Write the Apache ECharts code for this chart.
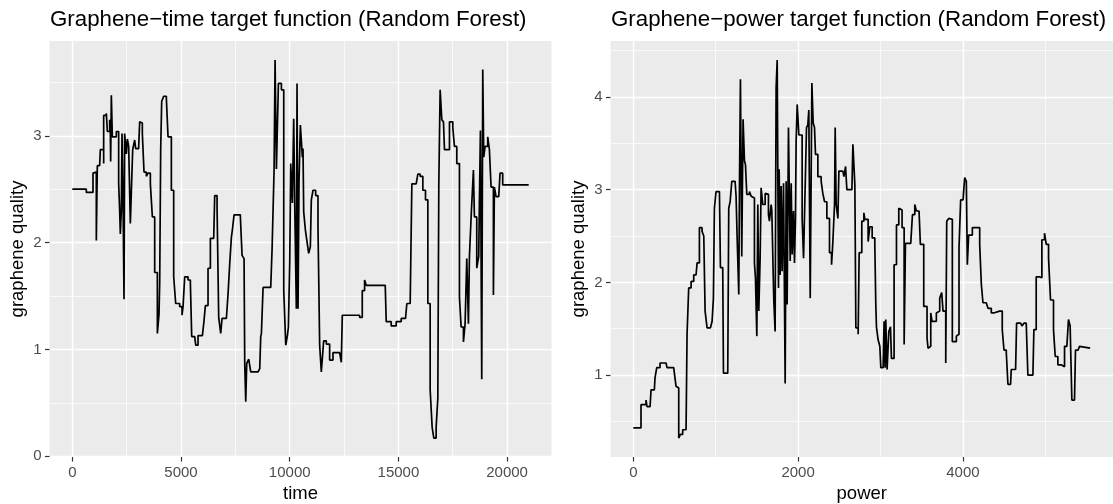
<!DOCTYPE html>
<html><head><meta charset="utf-8">
<script src="https://cdn.jsdelivr.net/npm/echarts@6/dist/echarts.min.js"></script>
<style>html,body{margin:0;padding:0;background:#fff}#c{width:1113px;height:504px}</style>
</head><body><div id="c"></div>
<script>
// ---- data ----
const timeX = [
  0, 644, 644, 951, 951, 1028, 1104, 1150, 1258, 1289,
  1442, 1442, 1565, 1611, 1718, 1749, 1764, 1795, 1841, 2025,
  2132, 2178, 2209, 2255, 2286, 2332, 2378, 2408, 2485, 2531,
  2592, 2669, 2746, 2777, 2869, 2915, 3053, 3099, 3175, 3221,
  3298, 3405, 3482, 3590, 3682, 3789, 3912, 3988, 4019, 4065,
  4111, 4203, 4326, 4403, 4556, 4663, 4755, 4939, 5047, 5093,
  5170, 5323, 5430, 5492, 5630, 5676, 5783, 5983, 6059, 6121,
  6243, 6351, 6504, 6550, 6658, 6734, 6826, 6888, 7087, 7164,
  7240, 7317, 7363, 7440, 7731, 7808, 7900, 7931, 7977, 8023,
  8115, 8207, 8544, 8621, 8667, 8698, 8775, 9127, 9189, 9281,
  9327, 9388, 9480, 9618, 9726, 9818, 9894, 9940, 10002, 10046,
  10122, 10184, 10230, 10306, 10337, 10383, 10429, 10490, 10582, 10612,
  10643, 10720, 10796, 10873, 10949, 10995, 11072, 11194, 11301, 11378,
  11454, 11531, 11562, 11684, 11837, 11990, 12297, 12373, 12419, 13215,
  13338, 13445, 13521, 14394, 14440, 14670, 14899, 15129, 15328, 15389,
  15542, 15619, 15818, 15894, 16002, 16124, 16246, 16354, 16461, 16553,
  16629, 16736, 16813, 16859, 16920, 16997, 17073, 17119, 17196, 17349,
  17502, 17578, 17686, 17808, 17885, 17992, 18068, 18145, 18221, 18267,
  18359, 18451, 18497, 18604, 18696, 18727, 18773, 18834, 18880, 18926,
  18987, 19109, 19186, 19263, 19370, 19416, 19492, 19615, 19676, 19798,
  20993
];
const timeY = [
  2.50, 2.50, 2.47, 2.47, 2.65, 2.66, 2.02, 2.72, 2.72, 2.87,
  2.74, 3.19, 3.21, 3.04, 3.15, 3.02, 2.76, 3.38, 2.99, 3.04,
  2.55, 2.30, 2.08, 2.30, 3.02, 2.43, 1.47, 3.02, 2.83, 2.97,
  2.90, 2.18, 2.18, 2.87, 2.96, 2.88, 2.90, 3.13, 3.12, 3.02,
  2.66, 2.62, 2.65, 2.55, 2.24, 1.72, 1.15, 1.33, 1.62, 2.87,
  3.32, 3.37, 3.35, 2.99, 2.49, 1.68, 1.43, 1.40, 1.32, 1.40,
  1.68, 1.65, 1.63, 1.12, 1.12, 1.04, 1.13, 1.13, 1.27, 1.41,
  1.76, 2.04, 2.05, 2.44, 2.33, 1.30, 1.15, 1.29, 1.30, 1.52,
  1.80, 2.05, 2.12, 2.26, 2.24, 1.88, 1.85, 0.87, 0.51, 0.87,
  0.91, 0.79, 0.79, 0.82, 1.12, 1.15, 1.58, 1.58, 1.94, 2.68,
  3.71, 2.69, 3.49, 3.43, 1.55, 1.04, 1.13, 1.21, 1.83, 2.74,
  2.37, 3.16, 2.37, 1.38, 3.49, 1.38, 2.58, 3.10, 2.80, 2.88,
  2.29, 2.12, 2.01, 1.90, 1.96, 2.40, 2.49, 2.44, 2.15, 1.04,
  0.79, 0.79, 1.08, 1.05, 0.90, 0.97, 0.96, 0.88, 1.32, 1.30,
  1.55, 1.65, 1.60, 1.60, 1.26, 1.22, 1.26, 1.29, 1.30, 1.43,
  1.43, 2.55, 2.55, 2.64, 2.62, 2.49, 2.40, 1.43, 0.62, 0.27,
  0.17, 0.27, 0.54, 2.55, 3.43, 3.15, 3.13, 2.87, 2.87, 3.13,
  3.08, 2.90, 2.74, 1.49, 1.21, 1.07, 1.24, 1.85, 1.24, 1.87,
  2.30, 2.68, 2.24, 1.76, 1.87, 2.40, 3.05, 0.72, 3.62, 2.80,
  2.90, 2.99, 2.87, 2.52, 1.51, 2.52, 2.43, 2.43, 2.65, 2.54,
  2.54
];
const powerX = [
  0, 93, 93, 154, 166, 203, 215, 255, 263, 284,
  324, 397, 409, 490, 498, 518, 539, 551, 571, 599,
  640, 652, 672, 701, 733, 761, 774, 802, 834, 855,
  871, 895, 936, 956, 972, 984, 1004, 1045, 1057, 1085,
  1094, 1146, 1158, 1175, 1195, 1235, 1247, 1260, 1280, 1288,
  1300, 1316, 1332, 1349, 1361, 1377, 1409, 1430, 1450, 1470,
  1482, 1499, 1511, 1523, 1539, 1551, 1571, 1600, 1624, 1640,
  1652, 1673, 1681, 1705, 1721, 1733, 1746, 1762, 1770, 1782,
  1794, 1806, 1823, 1843, 1855, 1867, 1883, 1904, 1916, 1928,
  1944, 1956, 1968, 1976, 1989, 2009, 2025, 2049, 2066, 2078,
  2090, 2102, 2118, 2130, 2147, 2167, 2183, 2199, 2211, 2240,
  2280, 2300, 2321, 2349, 2381, 2406, 2422, 2442, 2450, 2462,
  2483, 2495, 2543, 2556, 2576, 2592, 2653, 2665, 2681, 2689,
  2701, 2729, 2741, 2761, 2773, 2798, 2810, 2830, 2850, 2870,
  2899, 2931, 2943, 2951, 2971, 2992, 3004, 3032, 3044, 3056,
  3064, 3080, 3101, 3121, 3133, 3153, 3165, 3194, 3222, 3246,
  3262, 3287, 3303, 3367, 3388, 3416, 3436, 3468, 3484, 3525,
  3549, 3565, 3577, 3598, 3610, 3626, 3650, 3678, 3699, 3719,
  3743, 3759, 3792, 3804, 3828, 3852, 3872, 3893, 3921, 3941,
  3953, 3973, 4002, 4022, 4042, 4054, 4070, 4115, 4175, 4204,
  4224, 4244, 4284, 4305, 4345, 4373, 4385, 4446, 4478, 4499,
  4527, 4547, 4579, 4587, 4640, 4652, 4701, 4717, 4741, 4769,
  4789, 4850, 4862, 4890, 4931, 4959, 4991, 5012, 5040, 5064,
  5100, 5121, 5153, 5193, 5234, 5262, 5282, 5302, 5323, 5355,
  5367, 5399, 5416, 5436, 5545
];
const powerY = [
  0.43, 0.43, 0.68, 0.73, 0.66, 0.68, 0.84, 0.84, 0.97, 1.08,
  1.13, 1.13, 1.08, 1.07, 1.02, 0.88, 0.86, 0.32, 0.36, 0.41,
  0.43, 1.44, 1.94, 2.01, 2.08, 2.10, 2.21, 2.59, 2.55, 2.50,
  1.69, 1.51, 1.49, 1.58, 1.83, 2.80, 2.98, 2.98, 2.16, 2.16,
  1.02, 1.04, 2.80, 2.87, 3.09, 3.09, 2.93, 2.48, 1.87, 3.02,
  4.19, 2.28, 3.76, 3.31, 3.27, 2.95, 2.98, 2.93, 2.91, 2.21,
  2.05, 1.42, 2.84, 1.69, 2.26, 3.02, 2.84, 2.96, 2.95, 2.73,
  2.66, 2.84, 2.77, 1.80, 1.47, 4.10, 4.40, 1.94, 3.22, 2.08,
  3.04, 2.12, 3.07, 0.91, 3.09, 1.76, 3.67, 2.23, 3.07, 2.30,
  2.77, 2.21, 2.69, 3.52, 3.92, 3.59, 3.59, 2.69, 2.26, 2.73,
  2.73, 3.67, 3.70, 3.86, 1.83, 4.15, 3.72, 3.67, 3.38, 3.14,
  3.09, 2.96, 2.87, 2.69, 2.32, 2.19, 2.44, 2.84, 3.67, 2.84,
  2.69, 3.20, 3.20, 3.14, 3.25, 3.00, 3.00, 3.49, 3.49, 3.05,
  1.51, 1.44, 2.32, 2.32, 2.66, 2.75, 2.68, 2.68, 2.44, 2.60,
  2.48, 2.41, 1.76, 1.52, 1.38, 1.31, 1.08, 1.08, 1.58, 1.08,
  1.60, 1.06, 1.47, 1.52, 1.18, 1.18, 2.19, 2.62, 2.80, 2.78,
  2.59, 1.33, 2.42, 2.42, 2.73, 2.84, 2.77, 2.75, 2.41, 1.74,
  1.74, 1.40, 1.29, 1.31, 1.67, 1.58, 1.58, 1.67, 1.69, 1.83,
  1.89, 1.69, 1.13, 2.66, 2.69, 2.68, 1.36, 1.36, 1.42, 1.44,
  2.37, 2.89, 2.89, 3.13, 3.09, 2.19, 2.51, 2.59, 2.59, 2.41,
  1.98, 1.78, 1.78, 1.72, 1.67, 1.65, 1.69, 1.69, 1.49, 1.27,
  1.24, 0.90, 0.90, 1.06, 1.08, 1.56, 1.56, 1.53, 1.56, 1.56,
  1.00, 0.99, 1.49, 2.06, 2.05, 2.46, 2.53, 2.41, 2.26, 1.81,
  1.49, 1.20, 1.11, 1.09, 1.31, 1.31, 1.60, 1.53, 0.73, 0.73,
  1.27, 1.27, 1.31, 1.29, 1.29
];
const timeTicks = [0, 5000, 10000, 15000, 20000];
const timeMinor = [2500, 7500, 12500, 17500];
const powerTicks = [0, 2000, 4000];
const powerMinor = [1000, 3000, 5000];
const timeYTicks = [0, 1, 2, 3];
const timeYMinor = [0.5, 1.5, 2.5, 3.5];
const powerYTicks = [1, 2, 3, 4];
const powerYMinor = [0.5, 1.5, 2.5, 3.5, 4.5];
const titles = ['Graphene\u2212time target function (Random Forest)', 'Graphene\u2212power target function (Random Forest)'];

// ---- chart ----
const FONT = '"Liberation Sans", Arial, Helvetica, sans-serif';
function pairs(xs, ys) { return xs.map((x, i) => [x, ys[i]]); }
function expand(a) {
  const mn = Math.min.apply(null, a), mx = Math.max.apply(null, a), d = (mx - mn) * 0.05;
  return { min: mn - d, max: mx + d };
}
function majorAxis(gridIndex, ext, ticks, name, isY) {
  return {
    type: 'value', gridIndex: gridIndex, min: ext.min, max: ext.max,
    name: name, nameLocation: 'middle', nameGap: isY ? 22 : 25,
    nameTextStyle: { fontSize: 18.5, color: '#000', fontFamily: FONT },
    axisLine: { show: false, onZero: false },
    axisTick: { show: true, length: 4.5, customValues: ticks, lineStyle: { color: '#333', width: 1.2 } },
    axisLabel: { customValues: ticks, formatter: v => String(v), color: '#4D4D4D',
      fontSize: 15, fontFamily: FONT, margin: 8 },
    splitLine: { show: true, lineStyle: { color: '#FFFFFF', width: 1.4 } }
  };
}
function minorAxis(gridIndex, ext, ticks) {
  return {
    type: 'value', gridIndex: gridIndex, min: ext.min, max: ext.max,
    axisLine: { show: false, onZero: false },
    axisTick: { show: false, customValues: ticks },
    axisLabel: { show: false, customValues: ticks },
    splitLine: { show: true, lineStyle: { color: '#FFFFFF', width: 0.7 } }
  };
}
const tx = expand(timeX), ty = expand(timeY), px = expand(powerX), py = expand(powerY);
const titleStyle = { fontSize: 22.3, fontWeight: 'normal', color: '#000', fontFamily: FONT };

const chart = echarts.init(document.getElementById('c'), null, { renderer: 'canvas' });
chart.setOption({
  animation: false,
  backgroundColor: '#FFFFFF',
  title: [
    { text: titles[0], left: 50, top: 9, padding: 0, textStyle: titleStyle },
    { text: titles[1], left: 611, top: 9, padding: 0, textStyle: titleStyle }
  ],
  grid: [
    { left: 49.5, top: 41, width: 502, height: 416, show: true, backgroundColor: '#EBEBEB', borderWidth: 0, containLabel: false, outerBoundsMode: 'none' },
    { left: 610.5, top: 41, width: 502.5, height: 416, show: true, backgroundColor: '#EBEBEB', borderWidth: 0, containLabel: false, outerBoundsMode: 'none' }
  ],
  xAxis: [
    majorAxis(0, tx, timeTicks, 'time', false),
    minorAxis(0, tx, timeMinor),
    majorAxis(1, px, powerTicks, 'power', false),
    minorAxis(1, px, powerMinor)
  ],
  yAxis: [
    majorAxis(0, ty, timeYTicks, 'graphene quality', true),
    minorAxis(0, ty, timeYMinor),
    majorAxis(1, py, powerYTicks, 'graphene quality', true),
    minorAxis(1, py, powerYMinor)
  ],
  series: [
    { type: 'line', xAxisIndex: 0, yAxisIndex: 0, data: pairs(timeX, timeY), step: 'end',
      symbol: 'none', showSymbol: false, lineStyle: { color: '#000', width: 1.7 }, silent: true },
    { type: 'line', xAxisIndex: 2, yAxisIndex: 2, data: pairs(powerX, powerY), step: 'end',
      symbol: 'none', showSymbol: false, lineStyle: { color: '#000', width: 1.7 }, silent: true }
  ]
});
</script>
</body></html>
